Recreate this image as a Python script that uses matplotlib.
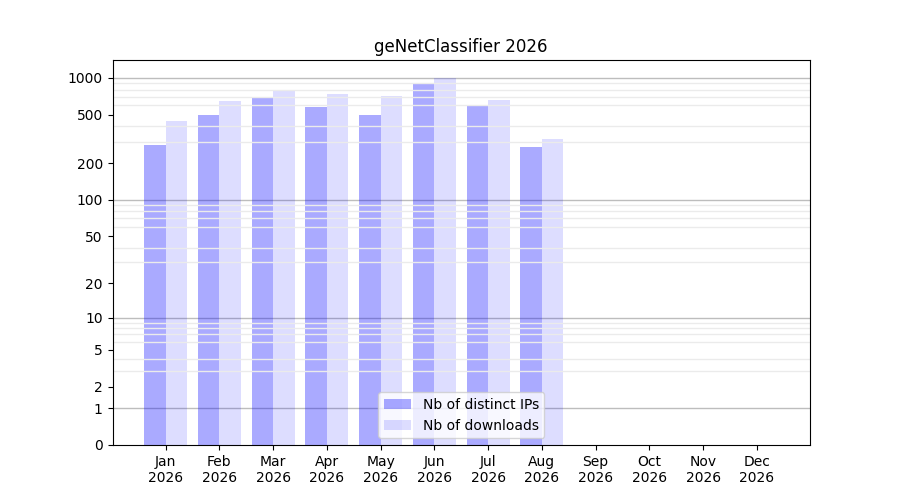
import numpy as np
import matplotlib
matplotlib.use("Agg")
import matplotlib.pyplot as plt

# Data
months = ['Jan', 'Feb', 'Mar', 'Apr', 'May', 'Jun', 'Jul', 'Aug', 'Sep', 'Oct', 'Nov', 'Dec']
year = '2026'
distinct_ips = [280, 493, 678, 572, 493, 882, 594, 269, 0, 0, 0, 0]
downloads = [440, 641, 778, 731, 704, 990, 653, 313, 0, 0, 0, 0]

yticks = [0, 1, 2, 5, 10, 20, 50, 100, 200, 500, 1000]
decades = [1, 10, 100, 1000]
minor = [m * d for d in [1, 10, 100] for m in range(2, 10)]


def forward(v):
    v = np.asarray(v, dtype=float)
    return np.log10(1 + np.clip(v, -0.999999, None))


def inverse(v):
    return 10 ** np.asarray(v, dtype=float) - 1


x = np.arange(len(months))
bar_width = 0.4

fig, ax = plt.subplots(figsize=(9, 5), dpi=100)
ax.set_yscale('function', functions=(forward, inverse))

ax.bar(x - bar_width / 2, distinct_ips, bar_width, color='blue', alpha=1 / 3,
       label='Nb of distinct IPs')
ax.bar(x + bar_width / 2, downloads, bar_width, color='blue', alpha=0.135,
       label='Nb of downloads')

ax.set_yticks(yticks)
ax.set_yticklabels([str(t) for t in yticks])
ax.set_yticks(minor, minor=True)
ax.tick_params(axis='y', which='minor', length=0)
ax.grid(True, axis='y', which='minor', color='#ebebeb', linewidth=1, zorder=0)
for d in decades:
    ax.axhline(d, color='#bdbdbd', linewidth=1, zorder=0.5)

ax.set_xticks(x)
ax.set_xticklabels([f'{m}\n{year}' for m in months])
ax.set_title(f'geNetClassifier {year}')
ax.legend(loc='lower center')

fig.savefig('out.png', dpi=100)
